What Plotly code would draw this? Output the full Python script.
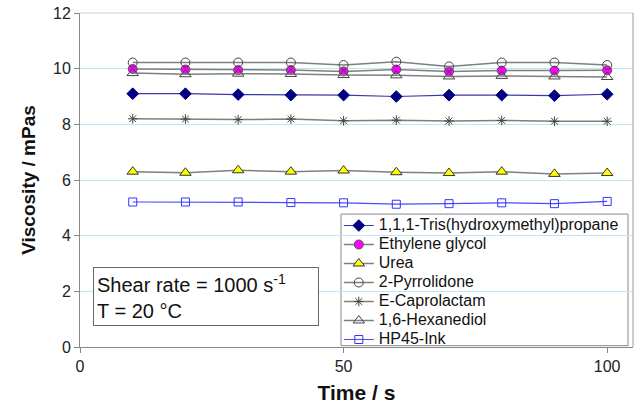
import plotly.graph_objects as go

time_s = [10, 20, 30, 40, 50, 60, 70, 80, 90, 100]

tris = [9.10, 9.10, 9.07, 9.05, 9.05, 9.00, 9.05, 9.05, 9.03, 9.08]
ethylene_glycol = [9.99, 9.97, 9.95, 9.95, 9.90, 9.97, 9.90, 9.93, 9.93, 9.94]
urea = [6.30, 6.26, 6.35, 6.30, 6.34, 6.28, 6.25, 6.30, 6.22, 6.25]
pyrrolidone = [10.22, 10.22, 10.22, 10.22, 10.13, 10.25, 10.08, 10.22, 10.22, 10.13]
caprolactam = [8.20, 8.19, 8.17, 8.19, 8.13, 8.15, 8.12, 8.14, 8.11, 8.11]
hexanediol = [9.84, 9.80, 9.82, 9.81, 9.77, 9.76, 9.72, 9.74, 9.72, 9.70]
hp45 = [5.21, 5.21, 5.21, 5.19, 5.18, 5.13, 5.15, 5.18, 5.15, 5.23]

names = ["1,1,1-Tris(hydroxymethyl)propane", "Ethylene glycol", "Urea",
         "2-Pyrrolidone", "E-Caprolactam", "1,6-Hexanediol", "HP45-Ink"]

FONT = "Arial, Liberation Sans, sans-serif"

styles = [
    dict(line=dict(color="#3a3aa8", width=1.2),
         marker=dict(symbol="diamond", size=9, color="#000080", line=dict(color="#000080", width=1))),
    dict(line=dict(color="#7f7f7f", width=1.5),
         marker=dict(symbol="circle", size=9, color="#ff00ff", line=dict(color="#555555", width=1))),
    dict(line=dict(color="#7f7f7f", width=1.5),
         marker=dict(symbol="triangle-up", size=10, color="#ffff00", line=dict(color="#333333", width=1))),
    dict(line=dict(color="#7f7f7f", width=1.5),
         marker=dict(symbol="circle-open", size=9, color="#444444", line=dict(width=1))),
    dict(line=dict(color="#7f7f7f", width=1.5),
         marker=dict(symbol="asterisk-open", size=8, color="#444444", line=dict(width=1))),
    dict(line=dict(color="#7f7f7f", width=1.5),
         marker=dict(symbol="triangle-up-open", size=10, color="#444444", line=dict(width=1))),
    dict(line=dict(color="#4a4aff", width=1.2),
         marker=dict(symbol="square-open", size=8, color="#3333ff", line=dict(width=1))),
]

series = [tris, ethylene_glycol, urea, pyrrolidone, caprolactam, hexanediol, hp45]

fig = go.Figure()
for name, ys, st in zip(names, series, styles):
    fig.add_trace(go.Scatter(x=time_s, y=ys, name=f'<span style="font-size:16px">{name}</span>',
                             mode="lines+markers", line=st["line"], marker=st["marker"]))

fig.update_layout(
    width=637, height=412,
    margin=dict(l=80, r=4, t=13, b=65),
    paper_bgcolor="white", plot_bgcolor="white",
    font=dict(family=FONT, size=16, color="#222222"),
    showlegend=True,
    legend=dict(x=0.468, y=-0.021, xanchor="left", yanchor="bottom",
                bgcolor="rgba(0,0,0,0)", borderwidth=0,
                font=dict(family=FONT, size=12, color="#111111"),
                itemwidth=30, tracegroupgap=0),
    xaxis=dict(range=[0, 104.9], tickvals=[0, 50, 100], showgrid=False,
               showline=True, linecolor="#888888", linewidth=1,
               ticks="outside", ticklen=5, tickcolor="#888888",
               zeroline=False, tickfont=dict(size=16, color="#222222"),
               title=dict(text="<b>Time / s</b>", font=dict(size=21, color="#111111"), standoff=11)),
    yaxis=dict(range=[0, 12], tickvals=[0, 2, 4, 6, 8, 10, 12], showgrid=True,
               gridcolor="#bfe6f5", gridwidth=1,
               showline=True, linecolor="#888888", linewidth=1,
               ticks="outside", ticklen=5, tickcolor="#888888",
               zeroline=False, tickfont=dict(size=16, color="#222222"),
               title=dict(text="<b>Viscosity / mPas</b>", font=dict(size=19, color="#111111"), standoff=12)),
    shapes=[
        dict(type="line", xref="paper", yref="paper", x0=0, x1=1, y0=1, y1=1,
             line=dict(color="#d0d0d0", width=1)),
        dict(type="line", xref="paper", yref="paper", x0=1, x1=1, y0=0, y1=1,
             line=dict(color="#999999", width=1)),
        # legend box (white fill hides gridlines, traces stay on top)
        dict(type="rect", xref="paper", yref="paper", x0=0.472, x1=0.991, y0=0.004, y1=0.398,
             layer="between", fillcolor="white", line=dict(color="#888888", width=1)),
    ],
    annotations=[
        dict(xref="paper", yref="paper", x=0.0235, y=0.063, xanchor="left", yanchor="bottom",
             text="Shear rate = 1000 s<sup>-1</sup><br>T = 20 °C", showarrow=False, align="left",
             font=dict(family=FONT, size=20, color="#111111"),
             bordercolor="#666666", borderwidth=1, borderpad=3, bgcolor="white", width=218),
    ],
)

fig.write_html("out.html")
